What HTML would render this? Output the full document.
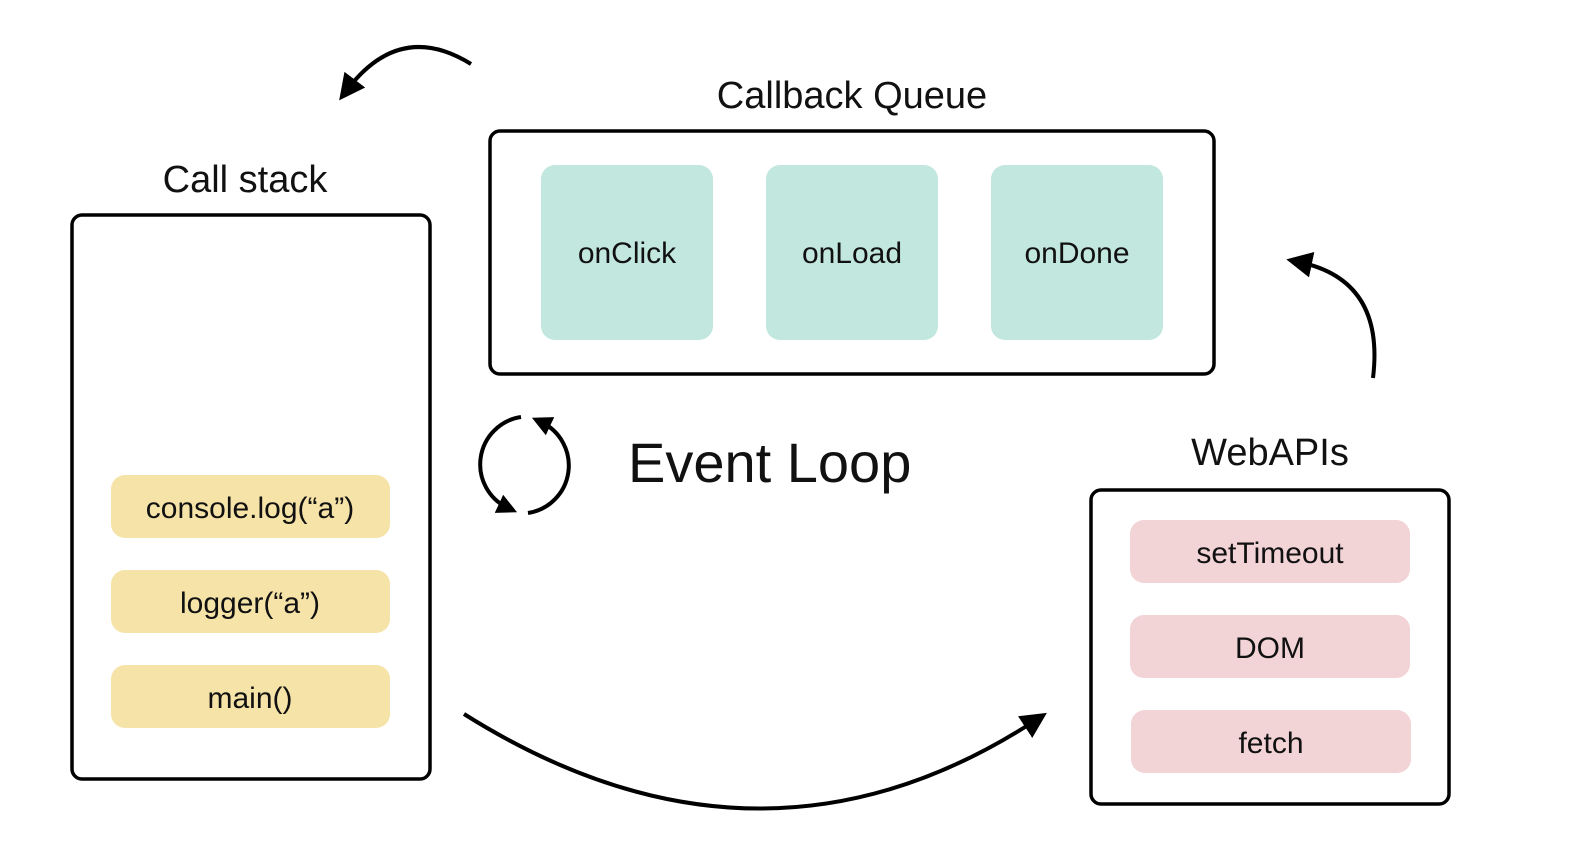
<!DOCTYPE html>
<html><head><meta charset="utf-8"><style>
body{margin:0;background:#fff;}
svg text{font-family:"Liberation Sans",sans-serif;fill:#111;}
</style></head><body>
<svg width="1580" height="858" viewBox="0 0 1580 858" xmlns="http://www.w3.org/2000/svg">
<defs>
<marker id="ah" viewBox="0 0 10 10" refX="5" refY="5" markerWidth="5" markerHeight="5" orient="auto" markerUnits="strokeWidth">
<path d="M0,0 L10,5 L0,10 z" fill="#000"/></marker>
<marker id="as" viewBox="0 0 10 10" refX="5" refY="5" markerWidth="6.5" markerHeight="6.5" orient="auto" markerUnits="strokeWidth">
<path d="M0,0 L10,5 L0,10 z" fill="#000"/></marker>
</defs>
<text x="245" y="192" font-size="38" text-anchor="middle">Call stack</text>
<rect x="72" y="215" width="358" height="564" rx="10" fill="none" stroke="#000" stroke-width="3.5"/>
<g font-size="30" text-anchor="middle">
<rect x="111" y="475" width="279" height="63" rx="14" fill="#f6e3a8"/><text x="250" y="518">console.log(“a”)</text>
<rect x="111" y="570" width="279" height="63" rx="14" fill="#f6e3a8"/><text x="250" y="613">logger(“a”)</text>
<rect x="111" y="665" width="279" height="63" rx="14" fill="#f6e3a8"/><text x="250" y="708">main()</text>
</g>
<text x="852" y="108" font-size="38" text-anchor="middle">Callback Queue</text>
<rect x="490" y="131" width="724" height="243" rx="10" fill="none" stroke="#000" stroke-width="3.5"/>
<g font-size="30" text-anchor="middle">
<rect x="541" y="165" width="172" height="175" rx="14" fill="#c2e7de"/><text x="627" y="263">onClick</text>
<rect x="766" y="165" width="172" height="175" rx="14" fill="#c2e7de"/><text x="852" y="263">onLoad</text>
<rect x="991" y="165" width="172" height="175" rx="14" fill="#c2e7de"/><text x="1077" y="263">onDone</text>
</g>
<text x="1270" y="465" font-size="38" text-anchor="middle">WebAPIs</text>
<rect x="1091" y="490" width="358" height="314" rx="10" fill="none" stroke="#000" stroke-width="3.5"/>
<g font-size="30" text-anchor="middle">
<rect x="1130" y="520" width="280" height="63" rx="14" fill="#f2d3d6"/><text x="1270" y="563">setTimeout</text>
<rect x="1130" y="615" width="280" height="63" rx="14" fill="#f2d3d6"/><text x="1270" y="658">DOM</text>
<rect x="1131" y="710" width="280" height="63" rx="14" fill="#f2d3d6"/><text x="1271" y="753">fetch</text>
</g>
<text x="628" y="482" font-size="56">Event Loop</text>
<g fill="none" stroke="#000" stroke-width="4">
<path d="M471,64 Q400,20 347,90" marker-end="url(#as)"/>
<path d="M1373,378 Q1385,280 1299,262" marker-end="url(#as)"/>
<path d="M464,714 Q760,900 1036,720" marker-end="url(#as)"/>
<path d="M521,417 A48,48 0 0 0 508,508" marker-end="url(#ah)"/>
<path d="M528,513 A48,48 0 0 0 541,422" marker-end="url(#ah)"/>
</g>
</svg>
</body></html>
